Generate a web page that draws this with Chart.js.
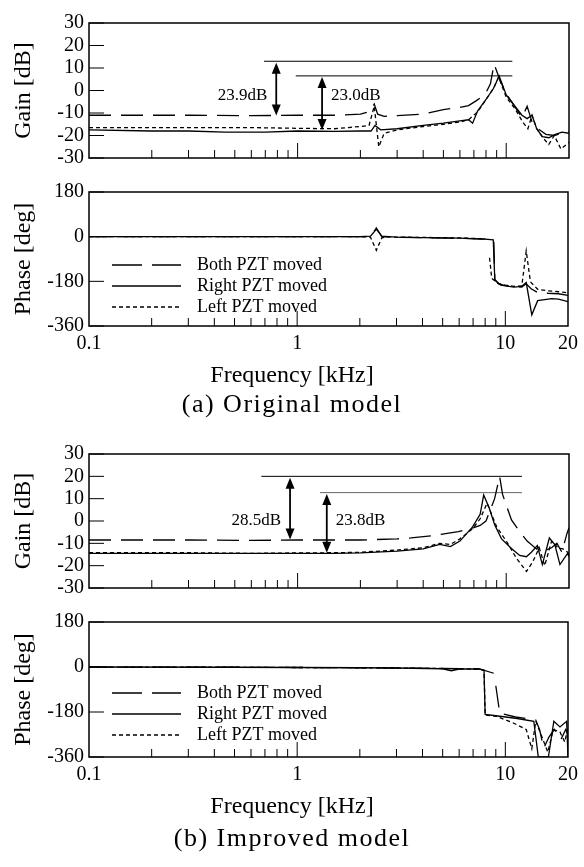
<!DOCTYPE html>
<html>
<head>
<meta charset="utf-8">
<script src="https://cdn.jsdelivr.net/npm/chart.js@4.4.1/dist/chart.umd.min.js"></script>
<style>
  body { margin: 0; background: #fff; width: 584px; height: 867px; position: relative; overflow: hidden; }
  canvas { position: absolute; left: 0; }
  .cap { position: absolute; left: 0; width: 584px; text-align: center; font: 26px "Liberation Serif", serif; letter-spacing: 1.5px; line-height: 30px; color: #000; }
</style>
</head>
<body>
<canvas id="gainA" width="584" height="175" style="top:0px"></canvas>
<canvas id="phaseA" width="584" height="215" style="top:175px"></canvas>
<div class="cap" style="top:389px">(a) Original model</div>
<canvas id="gainB" width="584" height="175" style="top:430px"></canvas>
<canvas id="phaseB" width="584" height="216" style="top:605px"></canvas>
<div class="cap" style="top:823px">(b) Improved model</div>

<script>
// ---- axes ----
const freqTickLabels = [0.1, 1, 10, 20];
const freqMinorTicks = [0.2, 0.3, 0.4, 0.5, 0.6, 0.7, 0.8, 0.9, 2, 3, 4, 5, 6, 7, 8, 9];
const freqMajorTicks = [1, 10];
const gainTicks = [30, 20, 10, 0, -10, -20, -30];
const phaseTicks = [180, 0, -180, -360];
const seriesNames = ['Both PZT moved', 'Right PZT moved', 'Left PZT moved'];

// ---- (a) original model, gain [dB] ----
const fGainA_both  = [0.1, 0.3, 0.6, 1, 1.5, 2.0, 2.2, 2.33, 2.42, 2.6, 3, 4, 5, 6, 6.6, 7.2, 7.6, 8.0, 8.4, 8.75, 9.3, 10, 10.8, 11.9, 12.6, 13.3, 14.2, 15.5, 17, 18.5, 20];
const gainA_both   = [-11, -11, -11.2, -11, -11, -10.5, -9.5, -6, -10.5, -11.5, -11.2, -10.5, -8.5, -7.5, -6.7, -4.5, -3, -1, 3, 11.8, 5, -1.5, -6, -12, -7, -14, -17, -19.5, -20, -19, -18];
const fGainA_right = [0.1, 0.2, 0.3, 0.45, 0.7, 1, 1.5, 2, 2.25, 2.35, 2.5, 3, 4, 5, 6, 6.6, 6.9, 7.3, 8, 8.7, 9.25, 10, 10.8, 11.9, 12.6, 13.3, 14, 14.9, 16, 17.2, 18.5, 20];
const gainA_right  = [-17.5, -18, -18, -18.5, -18.5, -18, -18.2, -18, -18, -15.5, -17.5, -17, -15.5, -14.5, -13.5, -13, -14.5, -9, -4, 1, 6.5, -2, -6, -11, -12.5, -11, -17, -20.5, -21, -19.5, -18.5, -19];
const fGainA_left  = [0.1, 0.3, 0.6, 1, 1.5, 2, 2.2, 2.33, 2.45, 2.6, 3, 4, 5, 6, 6.6, 7.3, 8, 8.7, 9.2, 10, 11, 12, 12.7, 13.3, 14, 15, 16, 17, 18.3, 20];
const gainA_left   = [-16.5, -16.5, -16.5, -16.8, -17, -16, -15.5, -7, -25, -19, -17.5, -16, -15, -14, -13, -9.5, -4, 1, 6, -3, -8, -14, -17, -11, -17, -21, -24, -20, -26, -23];

// ---- (a) original model, phase [deg] ----
const fPhaseA_both  = [0.1, 0.5, 1, 2, 2.25, 2.4, 2.55, 3, 4, 6, 8, 8.8, 8.9, 9.3, 10, 11, 12, 12.6, 13.3, 14.3, 16, 18, 20];
const phaseA_both   = [0, 0, 0, 0, 0, 35, 0, -3, -4, -6, -10, -14, -172, -190, -197, -202, -203, -190, -210, -225, -228, -230, -237];
const fPhaseA_right = [0.1, 0.5, 1, 2, 2.25, 2.4, 2.55, 3, 4, 6, 8, 8.75, 8.9, 9.5, 11, 12, 12.6, 13.4, 14.3, 16.7, 18, 20];
const phaseA_right  = [0, 0, 0, 0, 2, 30, 2, -2, -4, -6, -10, -13, -175, -195, -203, -200, -185, -315, -258, -250, -252, -262];
const fPhaseA_left  = [0.1, 0.5, 1, 2, 2.25, 2.4, 2.55, 2.7, 3, 4, 6, 8, 8.35, 8.4, 8.6, 9.2, 10, 11, 12, 12.6, 13.2, 14.3, 16, 18, 20];
const phaseA_left   = [0, 0, 0, 0, -2, -55, -5, 0, -2, -3, -5, -9, null, -85, -168, -188, -195, -200, -198, -58, -182, -212, -218, -222, -226];

// ---- (b) improved model, gain [dB] ----
const fGainB_both  = [0.1, 0.3, 0.6, 1, 1.5, 2, 3, 3.5, 4.5, 5.9, 7.0, 7.5, 8.0, 8.8, 9.3, 9.6, 10.1, 10.6, 11.6, 12.6, 14.0, 14.4, 15.5, 16.5, 17.5, 18.5, 19.5, 20];
const gainB_both   = [-8.5, -8.5, -8.7, -8.5, -8.5, -8.5, -8, -7.6, -6.5, -4.8, -3, -2, 0, 10, 20, 12, 6, 0.5, -4.7, -9, -12.6, -11, -13, -12, -10, -14, -6, -3];
const fGainB_right = [0.1, 0.3, 0.6, 1, 1.5, 2, 3, 4, 4.8, 5.4, 6.0, 6.9, 7.5, 7.8, 8.3, 8.8, 9.5, 10.6, 11.6, 12.5, 13.2, 14.1, 14.9, 16.1, 17.1, 18.1, 19.7, 20];
const gainB_right  = [-14.5, -14.5, -14.5, -14.5, -14.5, -14.3, -13.5, -12.5, -10.5, -11.5, -9, -2.6, 3, 11.6, 5.7, -1.7, -8, -12.3, -15.4, -16, -14, -11, -19.5, -7.6, -10.6, -19.5, -14.5, -16];
const fGainB_left  = [0.1, 0.3, 0.6, 1, 1.5, 2, 3, 4, 4.8, 5.4, 6.0, 6.9, 7.5, 8.1, 9.0, 10.1, 11.2, 12.5, 13.4, 14.4, 15.3, 16.5, 17.7, 18.7, 19.7, 20];
const gainB_left   = [-14.2, -14.2, -14.5, -14.3, -14.2, -14, -13, -12, -10, -10.5, -8, -3.5, 1, 8, -2.6, -9.6, -16.7, -22.6, -18.3, -12, -20, -9, -12, -12.5, -14, -15];

// ---- (b) improved model, phase [deg] ----
const fPhaseB_both  = [0.1, 0.5, 1, 2, 3, 5, 6, 7.5, 8.8, 8.9, 9.0, 9.4, 11.2, 14.0, 14.6, 15.3, 16.2, 17.2, 18.5, 19.5, 20];
const phaseB_both   = [0, -1, -2, -3, -4, -6, -7, -8, -25, null, -75, -185, -200, -212, -250, -325, -280, -250, -290, -250, -270];
const fPhaseB_right = [0.1, 0.5, 1, 2, 3, 5, 5.5, 6, 7.5, 7.9, 8.0, 9, 11.2, 13.7, 14.4, 16.1, 17.1, 18.3, 19.7, 20];
const phaseB_right  = [0, -1, -2, -3, -4, -7, -15, -8, -8, -15, -190, -195, -205, -217, -360, -360, -217, -240, -217, -360];
const fPhaseB_left  = [0.1, 0.5, 1, 2, 3, 5, 6, 7.5, 7.9, 8.0, 9, 10.8, 12.6, 13.4, 14.0, 15.0, 16.0, 17.0, 18.3, 19.3, 20];
const phaseB_left   = [0, -1, -2, -3, -4, -6, -7, -9, -12, -192, -197, -222, -250, -327, -217, -280, -340, -250, -260, -300, -240];

// ---- peak difference marks on the gain plots ----
const refLevelA = [13.0, 6.5], refStartA = [0.69, 0.98], refEndA = [10.7, 10.7];
const arrowFreqA = [0.79, 1.31], arrowTopA = [12.3, 6.0], arrowBottomA = [-11.1, -17.6];
const arrowTextA = ['23.9dB', '23.0dB'];
const refLevelB = [20.0, 12.7], refStartB = [0.67, 1.28], refEndB = [11.9, 11.9];
const arrowFreqB = [0.92, 1.38], arrowTopB = [19.4, 12.1], arrowBottomB = [-8.3, -14.2];
const arrowTextB = ['28.5dB', '23.8dB'];

const seriesDash = [[22, 10], [], [4, 3]];
const legendDash = [[30, 10], [], [4, 3]];
const FONT = '"Liberation Serif", "Times New Roman", serif';

function toPoints(f, v) {
  return f.map((x, i) => ({ x: x, y: v[i] }));
}

// axis frame with inward ticks, arrows, legend and the frequency title
function framePlugin(p) {
  return {
    id: 'frame',
    afterDraw(chart) {
      const { ctx, chartArea: a, scales: { x, y } } = chart;
      ctx.save();
      ctx.strokeStyle = '#000';
      ctx.fillStyle = '#000';
      ctx.lineWidth = 1;
      ctx.beginPath();
      freqMinorTicks.forEach(f => {
        const px = x.getPixelForValue(f);
        ctx.moveTo(px, a.bottom); ctx.lineTo(px, a.bottom - 8);
      });
      freqMajorTicks.forEach(f => {
        const px = x.getPixelForValue(f);
        ctx.moveTo(px, a.bottom); ctx.lineTo(px, a.bottom - 15);
      });
      p.yTicks.forEach(v => {
        const py = y.getPixelForValue(v);
        ctx.moveTo(a.left, py); ctx.lineTo(a.left + 15, py);
      });
      ctx.stroke();
      ctx.lineWidth = 1.5;
      ctx.strokeRect(a.left, a.top, a.right - a.left, a.bottom - a.top);

      if (p.arrows) {
        const ar = p.arrows;
        ar.freq.forEach((f, i) => {
          const px = x.getPixelForValue(f);
          const y1 = y.getPixelForValue(ar.top[i]);
          const y2 = y.getPixelForValue(ar.bottom[i]);
          const h = 11, w = 4.5;
          ctx.lineWidth = 1.8;
          ctx.beginPath(); ctx.moveTo(px, y1 + h - 1); ctx.lineTo(px, y2 - h + 1); ctx.stroke();
          ctx.beginPath(); ctx.moveTo(px, y1); ctx.lineTo(px - w, y1 + h); ctx.lineTo(px + w, y1 + h); ctx.closePath(); ctx.fill();
          ctx.beginPath(); ctx.moveTo(px, y2); ctx.lineTo(px - w, y2 - h); ctx.lineTo(px + w, y2 - h); ctx.closePath(); ctx.fill();
          ctx.font = '17px ' + FONT;
          ctx.textBaseline = 'middle';
          ctx.textAlign = ar.side[i] < 0 ? 'right' : 'left';
          ctx.fillText(ar.text[i], px + ar.side[i] * 9, y.getPixelForValue(ar.textAt));
        });
      }

      if (p.legend) {
        seriesNames.forEach((name, i) => {
          const ly = a.top + p.legendRows[i];
          ctx.lineWidth = 1.3;
          ctx.setLineDash(legendDash[i]);
          ctx.beginPath(); ctx.moveTo(a.left + 23, ly); ctx.lineTo(a.left + 92, ly); ctx.stroke();
          ctx.setLineDash([]);
          ctx.font = '18px ' + FONT;
          ctx.textAlign = 'left';
          ctx.textBaseline = 'middle';
          ctx.fillText(name, a.left + 108, ly);
        });
      }

      if (p.xTitle) {
        ctx.font = '24px ' + FONT;
        ctx.textAlign = 'center';
        ctx.textBaseline = 'middle';
        ctx.fillText(p.xTitle, chart.width / 2, a.bottom + 50);
      }
      ctx.restore();
    }
  };
}

function makePanel(id, p) {
  const datasets = p.series.map((s, i) => ({
    data: toPoints(s[0], s[1]),
    borderColor: '#000',
    borderWidth: 1.3,
    borderDash: seriesDash[i],
    pointRadius: 0,
    tension: 0,
    spanGaps: false
  }));
  if (p.refs) {
    p.refs.level.forEach((lv, i) => datasets.push({
      data: [{ x: p.refs.start[i], y: lv }, { x: p.refs.end[i], y: lv }],
      borderColor: p.refs.color[i],
      borderWidth: 1,
      pointRadius: 0
    }));
  }
  return new Chart(document.getElementById(id), {
    type: 'line',
    data: { datasets },
    options: {
      responsive: false,
      animation: false,
      events: [],
      layout: { padding: { top: p.padTop, bottom: p.padBottom, left: 0, right: 15 } },
      plugins: { legend: { display: false }, tooltip: { enabled: false } },
      scales: {
        x: {
          type: 'logarithmic',
          min: 0.1, max: 20,
          grid: { display: false, drawTicks: false },
          border: { display: false },
          afterBuildTicks: s => { s.ticks = p.xLabels.map(v => ({ value: v })); },
          afterFit: s => { s.height = p.xHeight; },
          ticks: {
            display: p.xLabels.length > 0,
            autoSkip: false, maxRotation: 0, padding: 6,
            color: '#000', font: { family: FONT, size: 20 },
            callback: v => String(v)
          }
        },
        y: {
          min: p.yTicks[p.yTicks.length - 1], max: p.yTicks[0],
          grid: { display: false, drawTicks: false },
          border: { display: false },
          afterBuildTicks: s => { s.ticks = p.yTicks.map(v => ({ value: v })); },
          afterFit: s => { s.width = 89; },
          ticks: { autoSkip: false, padding: 5, color: '#000', font: { family: FONT, size: 20 }, callback: v => String(v) },
          title: {
            display: true, text: p.yTitle,
            color: '#000', font: { family: FONT, size: 24 },
            padding: { top: 9, bottom: 0 }
          }
        }
      }
    },
    plugins: [framePlugin(p)]
  });
}

makePanel('gainA', {
  series: [[fGainA_both, gainA_both], [fGainA_right, gainA_right], [fGainA_left, gainA_left]],
  yTicks: gainTicks, yTitle: 'Gain [dB]', xLabels: [], xHeight: 0, padTop: 23, padBottom: 13,
  refs: { level: refLevelA, start: refStartA, end: refEndA, color: ['#000', '#000'] },
  arrows: { freq: arrowFreqA, top: arrowTopA, bottom: arrowBottomA, text: arrowTextA, side: [-1, 1], textAt: -2.4 }
});
makePanel('phaseA', {
  series: [[fPhaseA_both, phaseA_both], [fPhaseA_right, phaseA_right], [fPhaseA_left, phaseA_left]],
  yTicks: phaseTicks, yTitle: 'Phase [deg]', xLabels: freqTickLabels, xHeight: 64, padTop: 12, padBottom: 0,
  legend: true, legendRows: [73, 94, 115], xTitle: 'Frequency [kHz]'
});
makePanel('gainB', {
  series: [[fGainB_both, gainB_both], [fGainB_right, gainB_right], [fGainB_left, gainB_left]],
  yTicks: gainTicks, yTitle: 'Gain [dB]', xLabels: [], xHeight: 0, padTop: 24, padBottom: 11,
  refs: { level: refLevelB, start: refStartB, end: refEndB, color: ['#000', '#666'] },
  arrows: { freq: arrowFreqB, top: arrowTopB, bottom: arrowBottomB, text: arrowTextB, side: [-1, 1], textAt: 0.3 }
});
makePanel('phaseB', {
  series: [[fPhaseB_both, phaseB_both], [fPhaseB_right, phaseB_right], [fPhaseB_left, phaseB_left]],
  yTicks: phaseTicks, yTitle: 'Phase [deg]', xLabels: freqTickLabels, xHeight: 64, padTop: 12, padBottom: 0,
  legend: true, legendRows: [71, 92, 113], xTitle: 'Frequency [kHz]'
});
</script>
</body>
</html>
